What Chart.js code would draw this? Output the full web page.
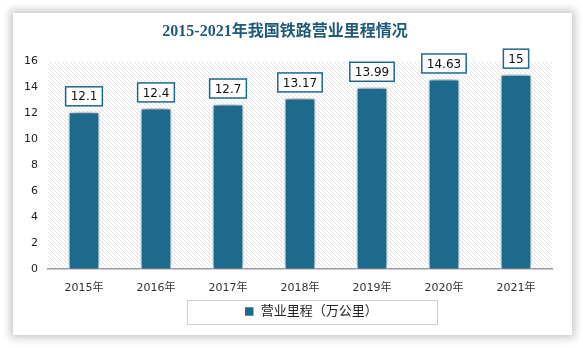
<!DOCTYPE html>
<html>
<head>
<meta charset="utf-8">
<script src="https://cdn.jsdelivr.net/npm/chart.js@4"></script>
<style>
  html, body { margin: 0; padding: 0; background: #ffffff; }
  body { width: 583px; height: 348px; position: relative; overflow: hidden; }
  .card {
    position: absolute; left: 13px; top: 13px; width: 559px; height: 322px;
    background: #fff; box-shadow: 0 0 8px 3px rgba(0,0,0,0.22);
  }
  #wrap { position: absolute; left: 0; top: 0; width: 583px; height: 348px; }
</style>
</head>
<body>
<div class="card"></div>
<div id="wrap"><canvas id="railChart"></canvas></div>
<script>
// chart data
const years = ['2015年', '2016年', '2017年', '2018年', '2019年', '2020年', '2021年'];
const mileage = [12.1, 12.4, 12.7, 13.17, 13.99, 14.63, 15];
const seriesName = '营业里程（万公里）';
const chartTitle = '2015-2021年我国铁路营业里程情况';

const barColor = '#1d6a8d';
const cjkFont = '"DejaVu Sans", "Noto Sans CJK SC", sans-serif';

function makeHatch() {
    const c = document.createElement('canvas');
    c.width = 4; c.height = 4;
    const g = c.getContext('2d');
    g.fillStyle = '#ffffff';
    g.fillRect(0, 0, 4, 4);
    g.strokeStyle = '#e2e2e2';
    g.lineWidth = 1;
    g.beginPath();
    g.moveTo(-1, -1); g.lineTo(5, 5);
    g.moveTo(-1, 3); g.lineTo(1, 5);
    g.moveTo(3, -1); g.lineTo(5, 1);
    g.stroke();
    return c;
}

const hatchPlugin = {
    id: 'hatch',
    beforeDraw(chart) {
        const { ctx, chartArea: a } = chart;
        ctx.save();
        ctx.fillStyle = ctx.createPattern(makeHatch(), 'repeat');
        ctx.fillRect(a.left, a.top, a.right - a.left, a.bottom - a.top);
        ctx.restore();
    }
};

const shadowPlugin = {
    id: 'barShadow',
    beforeDatasetsDraw(chart) {
        const ctx = chart.ctx;
        ctx.save();
        ctx.shadowColor = 'rgba(0,0,0,0.4)';
        ctx.shadowBlur = 7;
        ctx.shadowOffsetX = 0;
        ctx.shadowOffsetY = -1;
    },
    afterDatasetsDraw(chart) {
        chart.ctx.restore();
    }
};

const labelPlugin = {
    id: 'boxLabels',
    afterDatasetsDraw(chart) {
        const ctx = chart.ctx;
        const meta = chart.getDatasetMeta(0);
        ctx.save();
        ctx.font = '12px ' + cjkFont;
        ctx.textAlign = 'center';
        ctx.textBaseline = 'middle';
        meta.data.forEach((bar, i) => {
            const txt = String(mileage[i]);
            const w = ctx.measureText(txt).width + 10;
            const h = 19;
            const x = bar.x - w / 2;
            const y = bar.y - 6 - h;
            ctx.fillStyle = '#ffffff';
            ctx.fillRect(x, y, w, h);
            ctx.strokeStyle = barColor;
            ctx.lineWidth = 1.5;
            ctx.strokeRect(x, y, w, h);
            ctx.fillStyle = '#111';
            ctx.fillText(txt, bar.x, y + h / 2 + 1);
        });
        ctx.restore();
    }
};

const legendBoxPlugin = {
    id: 'legendBox',
    afterLayout(chart) {
        // legend sits a bit right of centre in the original
        chart.legend.left += 26;
        chart.legend.right += 26;
    },
    afterDraw(chart) {
        const hb = chart.legend.legendHitBoxes[0];
        if (!hb) return;
        const ctx = chart.ctx;
        const cy = hb.top + hb.height / 2;
        ctx.save();
        ctx.strokeStyle = '#d0d0d0';
        ctx.lineWidth = 1;
        ctx.strokeRect(187.5, Math.round(cy - 12) + 0.5, 250, 24);
        ctx.restore();
    }
};

new Chart(document.getElementById('railChart'), {
    type: 'bar',
    data: {
        labels: years,
        datasets: [{
            label: seriesName,
            data: mileage,
            backgroundColor: barColor,
            borderColor: '#ffffff',
            borderWidth: 1.5,
            categoryPercentage: 1,
            barPercentage: 0.44
        }]
    },
    options: {
        responsive: true,
        maintainAspectRatio: false,
        animation: false,
        layout: { padding: { left: 18, right: 31, top: 0, bottom: 20 } },
        plugins: {
            title: {
                display: true,
                text: chartTitle,
                color: '#1f5a78',
                font: { family: '"Liberation Serif", "Noto Sans CJK SC", serif', size: 16, weight: 'bold' },
                padding: { top: 22, bottom: 20 }
            },
            legend: {
                position: 'bottom',
                labels: {
                    boxWidth: 10,
                    boxHeight: 10,
                    padding: 5,
                    color: '#222',
                    font: { family: cjkFont, size: 13 }
                }
            },
            tooltip: { enabled: false }
        },
        scales: {
            x: {
                grid: { display: false },
                border: { color: '#999', width: 1.5 },
                ticks: { color: '#333', font: { family: cjkFont, size: 11 }, padding: 5 }
            },
            y: {
                min: 0,
                max: 16,
                afterFit(scale) { scale.width = 30; },
                grid: { display: false, drawTicks: false },
                border: { display: false },
                ticks: { stepSize: 2, color: '#222', font: { family: cjkFont, size: 11 }, padding: 10 }
            }
        }
    },
    plugins: [hatchPlugin, shadowPlugin, labelPlugin, legendBoxPlugin]
});
</script>
</body>
</html>
